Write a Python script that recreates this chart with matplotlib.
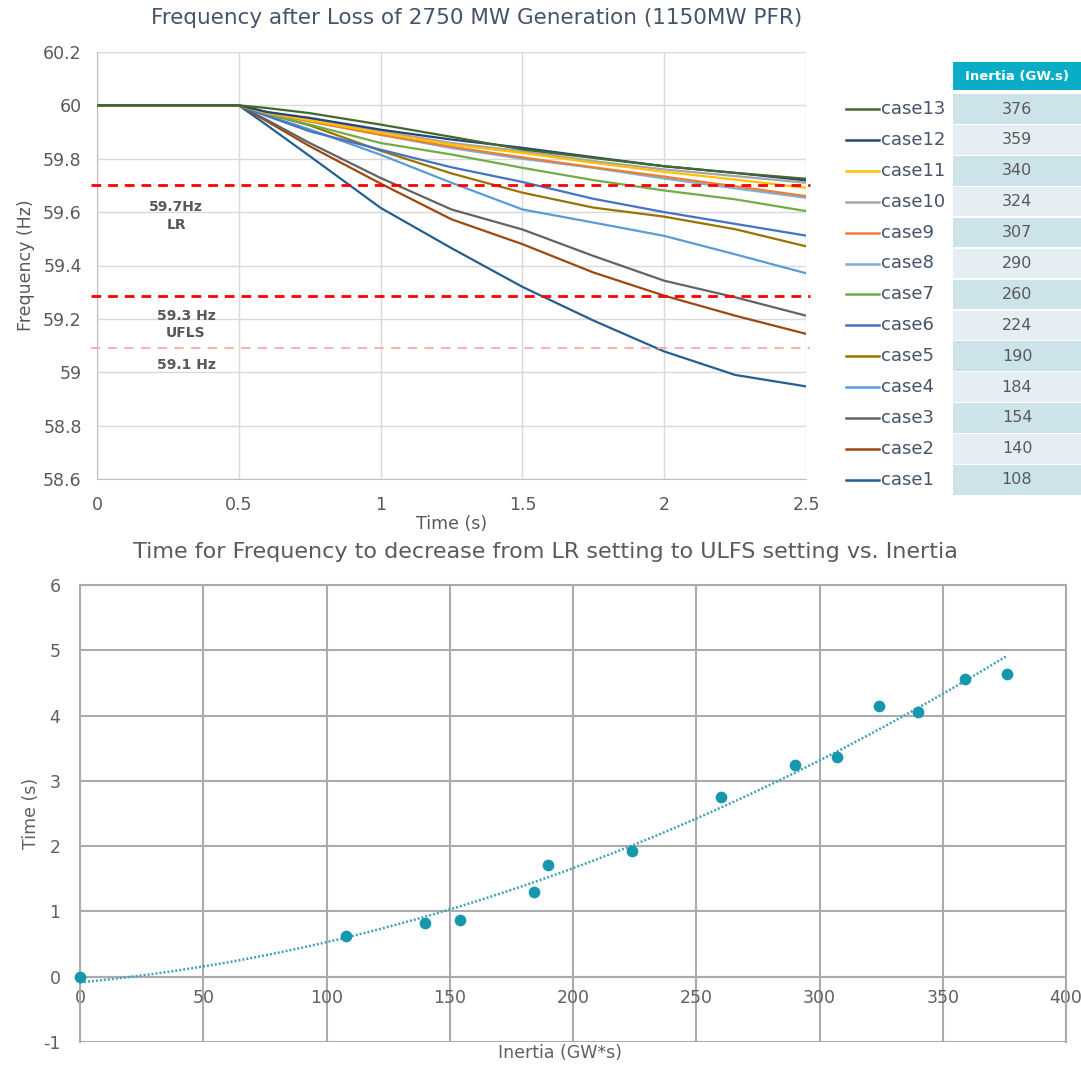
import numpy as np
import matplotlib
matplotlib.use('Agg')
import matplotlib.pyplot as plt
from matplotlib.patches import Rectangle

plt.rcParams['axes.unicode_minus'] = False

# ---- top chart data ----
t = [0, 0.5, 0.6, 0.75, 1.0, 1.25, 1.5, 1.75, 2.0, 2.25, 2.5]
case1 = [60, 60, 59.925, 59.81, 59.616, 59.465, 59.32, 59.194, 59.078, 58.99, 58.947]
case2 = [60, 60, 59.94, 59.847, 59.707, 59.573, 59.48, 59.374, 59.287, 59.212, 59.144]
case3 = [60, 60, 59.945, 59.859, 59.728, 59.61, 59.535, 59.436, 59.343, 59.281, 59.212]
case4 = [60, 60, 59.962, 59.91, 59.815, 59.71, 59.61, 59.561, 59.511, 59.442, 59.371]
case5 = [60, 60, 59.968, 59.925, 59.83, 59.745, 59.673, 59.617, 59.583, 59.536, 59.472]
case6 = [60, 60, 59.96, 59.903, 59.834, 59.768, 59.713, 59.65, 59.60, 59.556, 59.512]
case7 = [60, 60, 59.968, 59.928, 59.859, 59.816, 59.766, 59.72, 59.681, 59.648, 59.604]
case8 = [60, 60, 59.97, 59.94, 59.89, 59.84, 59.80, 59.766, 59.726, 59.689, 59.654]
case9 = [60, 60, 59.972, 59.94, 59.89, 59.845, 59.805, 59.768, 59.733, 59.697, 59.66]
case10 = [60, 60, 59.975, 59.947, 59.903, 59.859, 59.828, 59.791, 59.76, 59.735, 59.71]
case11 = [60, 60, 59.973, 59.944, 59.897, 59.853, 59.822, 59.785, 59.751, 59.722, 59.691]
case12 = [60, 60, 59.975, 59.953, 59.909, 59.872, 59.841, 59.806, 59.772, 59.747, 59.719]
case13 = [60, 60, 59.99, 59.971, 59.928, 59.882, 59.835, 59.803, 59.772, 59.747, 59.725]

series = [case1, case2, case3, case4, case5, case6, case7,
          case8, case9, case10, case11, case12, case13]
names = ['case1', 'case2', 'case3', 'case4', 'case5', 'case6', 'case7',
         'case8', 'case9', 'case10', 'case11', 'case12', 'case13']
colors = ['#255E91', '#9E480E', '#636363', '#5B9BD5', '#997300', '#4472C4', '#70AD47',
          '#7CAFDD', '#ED7D31', '#A5A5A5', '#FFC000', '#264478', '#43682B']
inertia = [108, 140, 154, 184, 190, 224, 260, 290, 307, 324, 340, 359, 376]

lr_level = 59.7
ufls_level = 59.286
low_level = 59.09

# ---- bottom chart data ----
inertia_pts = [0, 108, 140, 154, 184, 190, 224, 260, 290, 307, 324, 340, 359, 376]
time_pts = [0, 0.62, 0.82, 0.87, 1.29, 1.71, 1.92, 2.75, 3.25, 3.37, 4.15, 4.05, 4.56, 4.64]

W, H = 1081, 1065
fig = plt.figure(figsize=(W / 100, H / 100), dpi=100)
txt = '#595959'

# ================= top chart =================
ax = fig.add_axes([97 / W, 1 - 479 / H, (806 - 97) / W, (479 - 52) / H])
for s, c in zip(series, colors):
    ax.plot(t, s, color=c, lw=1.6, zorder=3)

ax.axhline(lr_level, xmin=-0.008, xmax=1.006, color='#FF0000', lw=2.0,
           dashes=(3.5, 2.5), clip_on=False, zorder=4)
ax.axhline(ufls_level, xmin=-0.008, xmax=1.006, color='#FF0000', lw=2.0,
           dashes=(3.5, 2.5), clip_on=False, zorder=4)
ax.axhline(low_level, xmin=-0.008, xmax=1.006, color='#FFB0B0', lw=1.5,
           dashes=(4.5, 3.5), clip_on=False, zorder=4)

ax.text(0.279, 59.586, '59.7Hz\nLR', ha='center', va='center', fontsize=10,
        fontweight='bold', color=txt, linespacing=1.3)
ax.text(0.314, 59.179, '59.3 Hz\nUFLS', ha='center', va='center', fontsize=10,
        fontweight='bold', color=txt, linespacing=1.3)
ax.text(0.314, 59.026, '59.1 Hz', ha='center', va='center', fontsize=10,
        fontweight='bold', color=txt)

ax.set_xlim(0, 2.5)
ax.set_ylim(58.6, 60.2)
ax.set_xticks([0, 0.5, 1, 1.5, 2, 2.5])
ax.set_xticklabels(['0', '0.5', '1', '1.5', '2', '2.5'])
ax.set_yticks(np.arange(58.6, 60.21, 0.2))
ax.set_yticklabels(['58.6', '58.8', '59', '59.2', '59.4', '59.6', '59.8', '60', '60.2'])
ax.grid(True, color='#D9D9D9', lw=1.0)
ax.set_axisbelow(True)
for sp in ['top', 'right']:
    ax.spines[sp].set_visible(False)
for sp in ['left', 'bottom']:
    ax.spines[sp].set_color('#BFBFBF')
ax.tick_params(length=0, labelsize=12.5, labelcolor=txt)
ax.tick_params(axis='y', pad=11)
ax.tick_params(axis='x', pad=12)
ax.set_xlabel('Time (s)', fontsize=12.5, color=txt, labelpad=1)
ax.set_ylabel('Frequency (Hz)', fontsize=12.5, color=txt, labelpad=6)

fig.text(477 / W, 1 - 18 / H, 'Frequency after Loss of 2750 MW Generation (1150MW PFR)',
         ha='center', va='center', fontsize=15.5, color='#44546A')

# ---- legend + inertia table ----
side = fig.add_axes([840 / W, 1 - 500 / H, 241 / W, 445 / H])
side.set_xlim(840, 1081)
side.set_ylim((500 - 109) / 30.9, (55 - 109) / 30.9)
side.axis('off')
side.add_patch(Rectangle((953.3, -1.511), 1081 - 953.3, 0.896, color='#0AADC6', lw=0))
side.text(1017, -1.063, 'Inertia (GW.s)', ha='center', va='center', fontsize=9.5,
          fontweight='bold', color='white', family=['Liberation Sans Narrow', 'DejaVu Sans'])
rows = list(zip(names, colors, inertia))[::-1]
for i, (nm, c, val) in enumerate(rows):
    side.plot([846, 879], [i, i], color=c, lw=1.8)
    side.text(881, i, nm, ha='left', va='center', fontsize=13, color='#44546A')
    fc = '#CCE3EA' if i % 2 == 0 else '#E5EFF3'
    side.add_patch(Rectangle((953.3, i - 0.477), 1081 - 953.3, 0.954, color=fc, lw=0))
    side.text(1017, i, str(val), ha='center', va='center', fontsize=11.5, color=txt)

# ================= bottom chart =================
ax2 = fig.add_axes([80 / W, 1 - 1042 / H, 986 / W, 457 / H])
coef = np.polyfit(inertia_pts, time_pts, 2)
xf = np.linspace(0, max(inertia_pts), 200)
ax2.plot(xf, np.polyval(coef, xf), color='#3FA3B9', lw=1.8, ls=(0, (0.8, 0.8)), zorder=3)
ax2.scatter(inertia_pts, time_pts, s=55, color='#1597AE', zorder=4, clip_on=False)

ax2.set_xlim(0, 400)
ax2.set_ylim(-1, 6)
ax2.set_xticks(np.arange(0, 401, 50))
ax2.set_yticks(np.arange(-1, 7, 1))
ax2.grid(True, color='#ABABAB', lw=1.5)
ax2.set_axisbelow(True)
ax2.spines['bottom'].set_position(('data', 0))
for sp in ax2.spines.values():
    sp.set_color('#ABABAB')
    sp.set_linewidth(1.5)
ax2.tick_params(length=0, labelsize=12.5, labelcolor='#606060')
ax2.tick_params(axis='y', pad=14)
ax2.tick_params(axis='x', pad=9)
ax2.set_xlabel('Inertia (GW*s)', fontsize=12.5, color='#606060')
ax2.xaxis.set_label_coords((560 - 80) / 986, -0.024)
ax2.xaxis.label.set_va('center')
ax2.set_ylabel('Time (s)', fontsize=12.5, color='#606060', labelpad=2)

fig.text(545 / W, 1 - 552 / H,
         'Time for Frequency to decrease from LR setting to ULFS setting vs. Inertia',
         ha='center', va='center', fontsize=16, color='#5A5A5A')

fig.savefig('out.png', dpi=100)
